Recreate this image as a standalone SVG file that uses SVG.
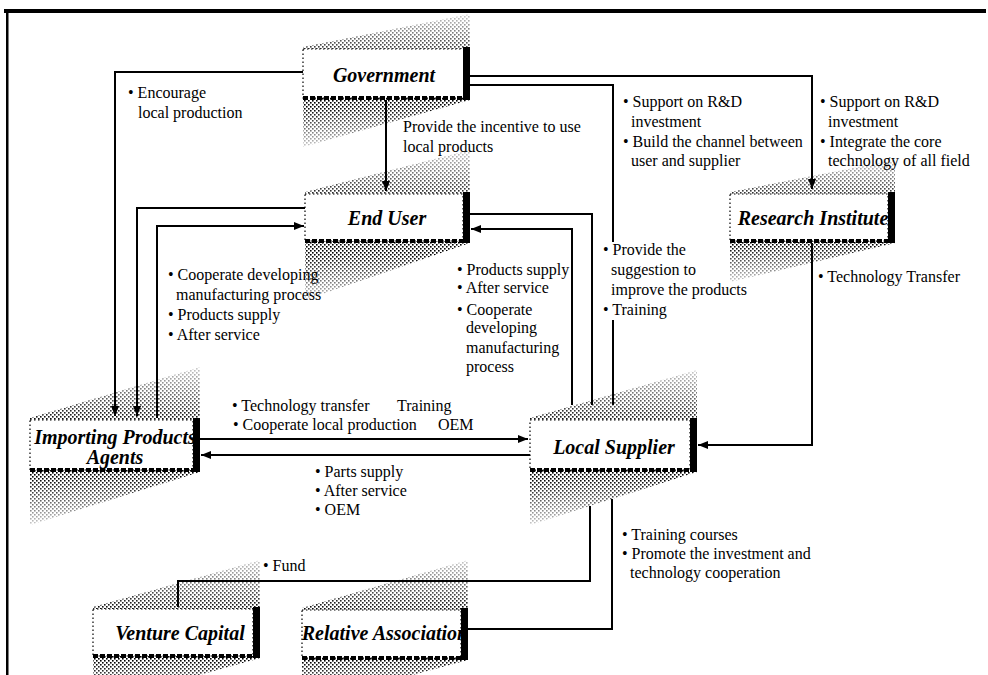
<svg xmlns="http://www.w3.org/2000/svg" width="988" height="675" viewBox="0 0 988 675">
<defs>
 <pattern id="dith" width="4" height="4" patternUnits="userSpaceOnUse">
  <rect x="0" y="0" width="1.6" height="1.6" fill="#000"/>
  <rect x="2" y="2" width="1.6" height="1.6" fill="#000"/>
 </pattern>
 <linearGradient id="fade" x1="0" y1="0" x2="0" y2="1">
  <stop offset="0" stop-color="#fff" stop-opacity="0.2"/>
  <stop offset="0.35" stop-color="#fff" stop-opacity="1"/>
  <stop offset="0.7" stop-color="#fff" stop-opacity="1"/>
  <stop offset="1" stop-color="#fff" stop-opacity="0.2"/>
 </linearGradient>
 <mask id="fm" maskContentUnits="objectBoundingBox">
  <rect width="1" height="1" fill="url(#fade)"/>
 </mask>
 <marker id="ah" viewBox="0 0 10 10" refX="10" refY="5" markerWidth="10" markerHeight="10" markerUnits="userSpaceOnUse" orient="auto">
  <path d="M0,1 L10,5 L0,9 z" fill="#000"/>
 </marker>
 <style>
  .band{fill:url(#dith);mask:url(#fm)}
  .box{fill:#fff;stroke:#000;stroke-width:1.2;stroke-dasharray:1.5 2.5}
  .side{fill:#000}
  .bot{stroke:#000;stroke-width:4;stroke-dasharray:5 2}
  .nl{font-family:"Liberation Serif","Times New Roman",serif;font-weight:bold;font-style:italic;font-size:20px;text-anchor:middle}
  .lb{font-family:"Liberation Serif","Times New Roman",serif;font-size:16px}
  .cn{fill:none;stroke:#000;stroke-width:2}
  .arr{marker-end:url(#ah)}
 </style>
</defs>
<rect width="988" height="675" fill="#fff"/>
<g id="frame">
 <rect x="4" y="9" width="982" height="4" fill="#000"/>
 <rect x="6" y="11" width="2.5" height="664" fill="#000"/>
</g>
<g id="government">
 <polygon class="band" points="303,147 303,47 470,14 470,100"/>
 <rect class="box" x="303" y="49" width="162" height="49"/>
 <rect class="side" x="463" y="47" width="7" height="53"/>
 <line class="bot" x1="303" y1="98" x2="465" y2="98"/>
 <text class="nl" x="384" y="82">Government</text>
</g>
<g id="end-user">
 <polygon class="band" points="305,300 305,192 470,150 470,243"/>
 <rect class="box" x="305" y="194" width="158" height="47"/>
 <rect class="side" x="463" y="192" width="7" height="51"/>
 <line class="bot" x1="305" y1="241" x2="465" y2="241"/>
 <text class="nl" x="387" y="225">End User</text>
</g>
<g id="research-institute">
 <polygon class="band" points="730,282 730,192 895,160 895,243"/>
 <rect class="box" x="730" y="194" width="158" height="47"/>
 <rect class="side" x="888" y="192" width="7" height="51"/>
 <line class="bot" x1="730" y1="241" x2="890" y2="241"/>
 <text class="nl" x="813" y="225">Research Institute</text>
</g>
<g id="importing-agents">
 <polygon class="band" points="30,525 30,418 200,367 200,472"/>
 <rect class="box" x="30" y="420" width="163" height="50"/>
 <rect class="side" x="193" y="418" width="7" height="54"/>
 <line class="bot" x1="30" y1="470" x2="195" y2="470"/>
 <text class="nl" x="115" y="444">Importing Products</text>
 <text class="nl" x="115" y="464">Agents</text>
</g>
<g id="local-supplier">
 <polygon class="band" points="530,525 530,418 697,370 697,472"/>
 <rect class="box" x="530" y="420" width="160" height="50"/>
 <rect class="side" x="690" y="418" width="7" height="54"/>
 <line class="bot" x1="530" y1="470" x2="692" y2="470"/>
 <text class="nl" x="614" y="454">Local Supplier</text>
</g>
<g id="venture-capital">
 <polygon class="band" points="93,705 93,607 260,560 260,658"/>
 <rect class="box" x="93" y="609" width="160" height="47"/>
 <rect class="side" x="253" y="607" width="7" height="51"/>
 <line class="bot" x1="93" y1="656" x2="255" y2="656"/>
 <text class="nl" x="180" y="640">Venture Capital</text>
</g>
<g id="relative-association">
 <polygon class="band" points="302,705 302,608 468,560 468,660"/>
 <rect class="box" x="302" y="610" width="159" height="48"/>
 <rect class="side" x="461" y="608" width="7" height="52"/>
 <line class="bot" x1="302" y1="658" x2="463" y2="658"/>
 <text class="nl" x="385" y="640">Relative Association</text>
</g>
<g id="connectors">
 <path class="cn arr" d="M303,72 H115 V416"/>
 <path class="cn arr" d="M305,208 H137 V416"/>
 <path class="cn arr" d="M157,418 V226 H304"/>
 <path class="cn arr" d="M386,100 V191"/>
 <path class="cn arr" d="M470,76 H812 V189"/>
 <path class="cn" d="M470,85 H613 V242 M613,320 V405"/>
 <path class="cn" d="M592,405 V214 H470"/>
 <path class="cn arr" d="M572,405 V229 H471"/>
 <path class="cn arr" d="M812,243 V445 H698"/>
 <path class="cn arr" d="M200,439 H528"/>
 <path class="cn arr" d="M530,455 H201"/>
 <path class="cn" d="M590,506 V581 H178 V607"/>
 <path class="cn" d="M612,499 V629 H468"/>
</g>
<g id="labels" class="lb">
 <text x="128" y="98">• Encourage</text>
 <text x="138" y="118">local production</text>
 <text x="403" y="132">Provide the incentive to use</text>
 <text x="403" y="152">local products</text>
 <text x="623" y="107">• Support on R&amp;D</text>
 <text x="631" y="127">investment</text>
 <text x="623" y="147">• Build the channel between</text>
 <text x="631" y="166">user and supplier</text>
 <text x="820" y="107">• Support on R&amp;D</text>
 <text x="828" y="127">investment</text>
 <text x="820" y="147">• Integrate the core</text>
 <text x="828" y="166">technology of all field</text>
 <text x="603" y="255">• Provide the</text>
 <text x="611" y="275">suggestion to</text>
 <text x="611" y="295">improve the products</text>
 <text x="603" y="315">• Training</text>
 <text x="818" y="282">• Technology Transfer</text>
 <text x="168" y="280">• Cooperate developing</text>
 <text x="176" y="300">manufacturing process</text>
 <text x="168" y="320">• Products supply</text>
 <text x="168" y="340">• After service</text>
 <text x="457" y="275">• Products supply</text>
 <text x="457" y="293">• After service</text>
 <text x="457" y="315">• Cooperate</text>
 <text x="466" y="333">developing</text>
 <text x="466" y="353">manufacturing</text>
 <text x="466" y="372">process</text>
 <text x="232" y="411">• Technology transfer</text>
 <text x="397" y="411">Training</text>
 <text x="233" y="430">• Cooperate local production</text>
 <text x="438" y="430">OEM</text>
 <text x="315" y="477">• Parts supply</text>
 <text x="315" y="496">• After service</text>
 <text x="315" y="515">• OEM</text>
 <text x="263" y="571">• Fund</text>
 <text x="622" y="540">• Training courses</text>
 <text x="622" y="559">• Promote the investment and</text>
 <text x="630" y="578">technology cooperation</text>
</g>
</svg>
